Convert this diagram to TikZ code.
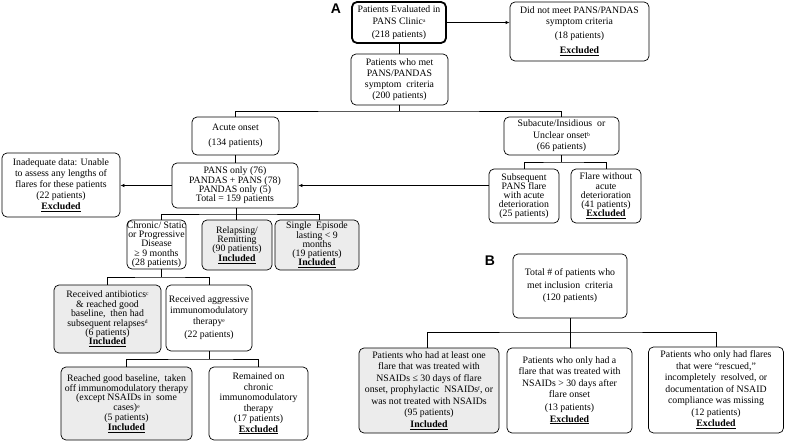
\documentclass[tikz,border=0pt]{standalone}
\usepackage{fontspec}
\setmainfont{Liberation Serif}
\newfontfamily\labfont{Liberation Sans}
\usetikzlibrary{arrows.meta}
\tikzset{
  box/.style={draw=black, line width=0.7pt, rounded corners=5pt, inner sep=0pt, align=center, fill=white},
  gbox/.style={box, fill=gray!15},
  ls/.style={font=\fontsize{9.8}{#1}\selectfont},
  conn/.style={draw=black, line width=0.7pt},
  arr/.style={conn, -{Latex[length=4pt,width=3.5pt]}},
  panel/.style={font=\labfont\bfseries\fontsize{14}{14}\selectfont, inner sep=0pt}
}
\newcommand{\inc}{\underline{\textbf{Included}}}
\newcommand{\exc}{\underline{\textbf{Excluded}}}
\newcommand{\sups}[1]{\raisebox{2.2pt}{\fontsize{5.5}{5.5}\selectfont #1}}
\begin{document}
\begin{tikzpicture}[x=1pt,y=-1pt]
\useasboundingbox (0,0) rectangle (785,441);
% panel labels
\node[panel] (lA) at (336,9) {A};
\node[panel] (lB) at (490,261) {B};
% panel A
\node[box, line width=1.8pt, minimum width=94, minimum height=41, ls=12] (eval) at (399,22.5)
  {Patients Evaluated in\\PANS Clinic\sups{a}\\[1pt](218 patients)};
\node[box, minimum width=139, minimum height=59, ls=11] (notmet) at (579.5,31.5)
  {Did not meet PANS/PANDAS\\symptom criteria\\[3pt](18 patients)\\[4pt]\exc};
\node[box, minimum width=97, minimum height=51, ls=11] (met) at (399.5,79.5)
  {Patients who met\\PANS/PANDAS\\symptom\ \ criteria\\(200 patients)};
\node[box, minimum width=87, minimum height=38, ls=11] (acute) at (235.5,136)
  {Acute onset\\[4pt](134 patients)};
\node[box, minimum width=115, minimum height=38, ls=11.5] (subacute) at (561.5,136)
  {Subacute/Insidious\ \ or\\Unclear onset\sups{b}\\(66 patients)};
\node[box, minimum width=126, minimum height=45, ls=9.3] (pans) at (235,185.5)
  {PANS only (76)\\PANDAS + PANS (78)\\PANDAS only (5)\\Total = 159 patients};
\node[box, minimum width=118, minimum height=64, ls=11] (inad) at (61,185)
  {Inadequate data: Unable\\to assess any lengths of\\flares for these patients\\(22 patients)\\\exc};
\node[box, minimum width=70, minimum height=54, ls=9] (subseq) at (524,196)
  {Subsequent\\PANS flare\\with acute\\deterioration\\(25 patients)};
\node[box, minimum width=70, minimum height=54, ls=9.2] (flarewo) at (606,196)
  {Flare without\\acute\\deterioration\\(41 patients)\\\exc};
\node[box, minimum width=59, minimum height=49, ls=9.2] (chronic) at (156.5,244.5)
  {Chronic/ Static\\or Progressive\\Disease\\≥ 9 months\\(28 patients)};
\node[gbox, minimum width=70, minimum height=50, ls=9.3] (relapsing) at (237,245)
  {Relapsing/\\Remitting\\(90 patients)\\\inc};
\node[gbox, minimum width=84, minimum height=50, ls=9.3] (single) at (317,245)
  {Single\ \ Episode\\lasting \textless{} 9\\months\\(19 patients)\\\inc};
\node[gbox, minimum width=107, minimum height=68, ls=9.4] (antib) at (107.5,319)
  {Received antibiotics\sups{c}\\\& reached good\\baseline,\ \ then had\\subsequent relapses\sups{d}\\(6 patients)\\\inc};
\node[box, minimum width=86, minimum height=66, ls=11] (aggr) at (209,318)
  {Received aggressive\\immunomodulatory\\therapy\sups{e}\\[2pt](22 patients)};
\node[gbox, minimum width=131, minimum height=73, ls=8.8] (reached) at (126.5,403.5)
  {Reached good baseline,\ \ taken\\off immunomodulatory therapy\\(except NSAIDs in\ \ some\\cases)\sups{e}\\(5 patients)\\\inc};
\node[box, minimum width=99, minimum height=73, ls=10.5] (remained) at (258.5,403.5)
  {Remained on\\chronic\\immunomodulatory\\therapy\\(17 patients)\\\exc};
% panel B
\node[box, minimum width=114, minimum height=64, ls=12.5] (total) at (570,286)
  {Total \# of patients who\\met inclusion\ \ criteria\\(120 patients)};
\node[gbox, minimum width=140, minimum height=85, ls=11.5] (b1) at (429,390.5)
  {Patients who had at least one\\flare that was treated with\\NSAIDs ≤ 30 days of flare\\onset, prophylactic\ \ NSAIDs\sups{f}, or\\was not treated with NSAIDs\\(95 patients)\\\inc};
\node[box, minimum width=125, minimum height=85, ls=11.3] (b2) at (569.5,390.5)
  {Patients who only had a\\flare that was treated with\\NSAIDs \textgreater{} 30 days after\\flare onset\\[2pt](13 patients)\\\exc};
\node[box, minimum width=135, minimum height=86, ls=11.5] (b3) at (716,390)
  {Patients who only had flares\\that were “rescued,”\\incompletely\ \ resolved, or\\documentation of NSAID\\compliance was missing\\(12 patients)\\\exc};
% junctions
\coordinate (j1) at (399,111);
\coordinate (j2) at (562,162);
\coordinate (j3) at (236,214);
\coordinate (j4) at (161.5,277);
\coordinate (j5) at (209,359);
\coordinate (j6) at (570,332);
% connectors panel A
\draw[arr] (eval.east) -- (notmet.west |- eval.east);
\draw[conn] (eval.south) -- (eval.south |- met.north);
\draw[conn] (met.south) -- (met.south |- j1);
\draw[conn] (acute.north) |- (j1) -| (subacute.north);
\draw[conn] (acute.south) -- (acute.south |- pans.north);
\draw[arr] (pans.west) -- (inad.east |- pans.west);
\draw[arr] (subseq.west |- pans.east) -- (pans.east);
\draw[conn] (subacute.south) -- (subacute.south |- j2);
\draw[conn] (subseq.north) |- (j2) -| (flarewo.north);
\draw[conn] (j3 |- pans.south) -- (j3 |- relapsing.north);
\draw[conn] ([xshift=5pt]chronic.north) |- (j3) -| ([xshift=2pt]single.north);
\draw[conn] ([xshift=5pt]chronic.south) -- (j4);
\draw[conn] (antib.north) |- (j4) -| (aggr.north);
\draw[conn] (aggr.south) -- (aggr.south |- j5);
\draw[conn] (reached.north) |- (j5) -| (remained.north);
% connectors panel B
\draw[conn] (total.south) -- (total.south |- b2.north);
\draw[conn] ([xshift=-2pt]b1.north) |- (j6) -| (b3.north);
\end{tikzpicture}
\end{document}
